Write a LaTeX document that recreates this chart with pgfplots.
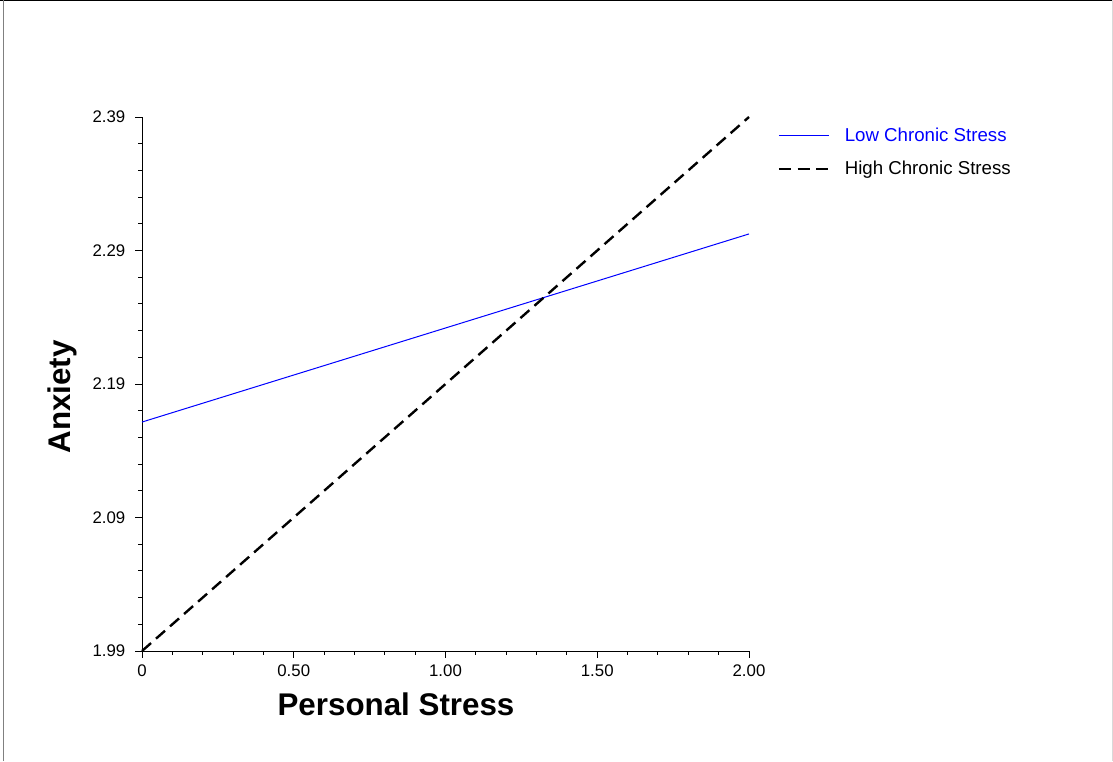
\documentclass[border=0pt]{standalone}
\usepackage{fontspec}
\setmainfont{Liberation Sans}
\usepackage{pgfplots}
\pgfplotsset{compat=1.18}
\begin{document}
\begin{tikzpicture}[x=1pt,y=1pt]
\useasboundingbox (0,0) rectangle (834.75,570.75);
\draw[black,line width=1pt] (0,570.25) -- (834.75,570.25);
\draw[gray,line width=1.2pt] (2.6,0) -- (2.6,570.75);
\draw[black!15,line width=0.8pt] (834.2,0) -- (834.2,570.75);
\begin{axis}[
  at={(106.5pt,82.5pt)}, anchor=south west,
  scale only axis, width=455.25pt, height=400.5pt,
  xmin=0, xmax=2, ymin=1.99, ymax=2.39,
  axis x line=bottom, axis y line=left,
  axis line style={-, line width=0.75pt},
  xtick={0,0.5,1,1.5,2}, xticklabels={0,0.50,1.00,1.50,2.00},
  ytick={1.99,2.09,2.19,2.29,2.39}, yticklabels={1.99,2.09,2.19,2.29,2.39},
  minor x tick num=4, minor y tick num=4,
  tick align=outside, tick style={black, line width=0.75pt},
  major tick length=5pt, minor tick length=2.8pt,
  /pgf/number format/assume math mode=true,
  ticklabel style={font=\fontsize{12.6}{15}\selectfont},
  xticklabel style={yshift=-1.5pt},
  yticklabel style={xshift=-4pt},
  xlabel={Personal Stress}, ylabel={Anxiety},
  xlabel style={font=\fontsize{23.5}{28}\selectfont\bfseries, at={(axis description cs:0.4185,-0.0993)}, anchor=center},
  ylabel style={font=\fontsize{23.5}{28}\selectfont\bfseries, at={(axis description cs:-0.1318,0.4757)}, anchor=center, rotate=0},
  legend style={draw=none, fill=none, inner sep=0pt, at={(1.0469,0.985)}, anchor=north west, font=\fontsize{14}{17}\selectfont, row sep=9.25pt,
    /tikz/every odd column/.append style={column sep=9pt}},
  legend cell align=left,
  legend image code/.code={\draw[#1] (0pt,0pt) -- (37.5pt,0pt);},
  clip=false,
]
\addplot[blue, line width=0.75pt] coordinates {(0,2.1615) (2,2.3024)};
\addlegendentry{\textcolor{blue}{Low Chronic Stress}}
\addplot[black, line width=1.8pt, dash pattern=on 9pt off 5pt] coordinates {(0,1.99) (2,2.39)};
\addlegendentry{High Chronic Stress}
\end{axis}
\end{tikzpicture}
\end{document}
